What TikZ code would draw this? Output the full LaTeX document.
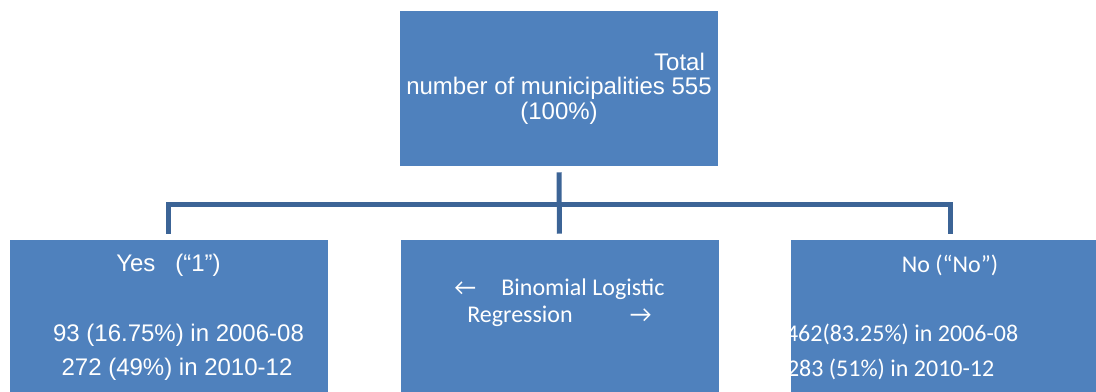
\documentclass[tikz,border=0pt]{standalone}
\usepackage{fontspec}
\setmainfont{Liberation Sans}
\newfontfamily\calibri{Carlito}
\usetikzlibrary{positioning}
\definecolor{boxblue}{HTML}{4F81BD}
\definecolor{linkblue}{HTML}{3C6496}

\begin{document}
\begin{tikzpicture}[x=0.75pt, y=-0.75pt,
	box/.style={fill=boxblue, inner sep=0pt, minimum width=238.5pt, minimum height=116.25pt},
	txt/.style={text=white, align=center, inner sep=0pt, font=\fontsize{18}{26}\selectfont},
	link/.style={draw=linkblue, line width=3.75pt, shorten <=4.5pt, shorten >=4.5pt}]
	\useasboundingbox (0,0) rectangle (1096,392);
	% boxes
	\node[box] (total) at (559,88.5) {};
	\node[box] (yes) at (168.5,317.5) {};
	\node[box] (regr) at (559.5,317.5) {};
	\node[box] (no) at (950,317.5) {};
	% texts
	\node[txt, font=\fontsize{18}{18.5}\selectfont] (total-text) at (total.center)
		{\makebox[228.75pt][r]{Total\hspace{5pt}}\\number of municipalities 555\\(100\%)};
	\node[txt] (yes-text) at (yes.center)
		{Yes\ \ \ (“1”)\\[26pt]\hspace*{15pt}93 (16.75\%) in 2006-08\\\hspace*{12.75pt}272 (49\%) in 2010-12};
	\node[txt, font=\calibri\fontsize{18}{20.25}\selectfont] (regr-text) at ([yshift=11.25pt]regr.center)
		{\makebox[35.25pt][l]{←}Binomial Logistic\\Regression\makebox[59.25pt][r]{→}};
	\node[txt, font=\calibri\fontsize{18}{26}\selectfont] (no-text) at (no.center)
		{No (“No”)\\[26pt]\makebox[238.5pt][l]{\hspace*{-3.75pt}462(83.25\%) in 2006-08}\\\makebox[238.5pt][l]{\hspace*{-3pt}283 (51\%) in 2010-12}};
	% connectors
	\draw[link] (total.south) -- (regr.north);
	\draw[link] (yes.north) -- ++(0,-35.5) -| (no.north);
\end{tikzpicture}
\end{document}
